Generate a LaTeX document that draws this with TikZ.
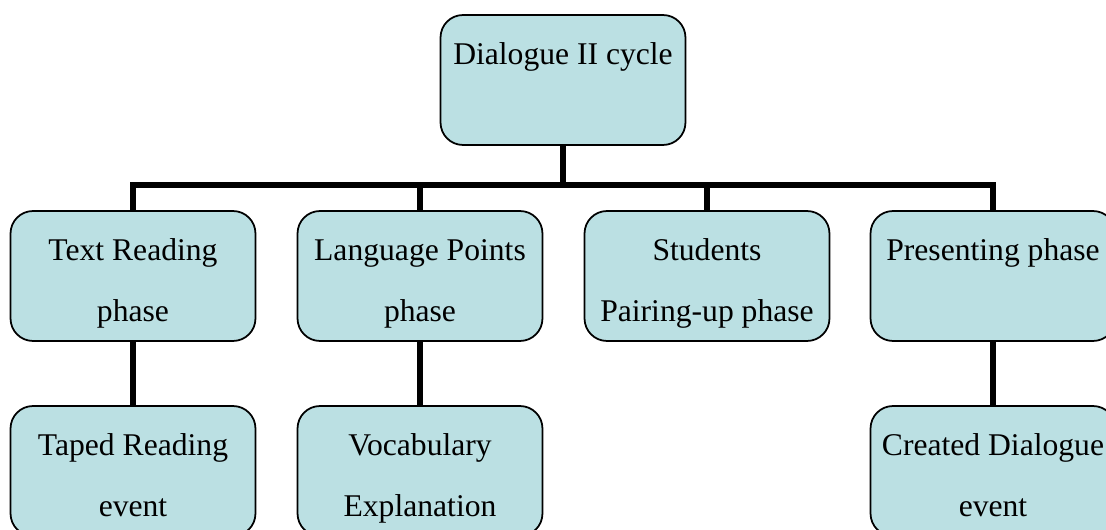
\documentclass[tikz,border=0pt]{standalone}
\usepackage{fontspec}
\setmainfont{Liberation Serif}
\usepackage{tikz}
\usetikzlibrary{calc}
\definecolor{cellfill}{HTML}{BBE0E3}
\newcommand{\celltext}[1]{\parbox[c][2.6cm][t]{4.9cm}{\centering\fontsize{18pt}{34.7pt}\selectfont\vspace*{4.15pt}\strut #1}}

\begin{document}
\begin{tikzpicture}[x=0.02cm,y=-0.02cm]
\tikzset{cell/.style={draw,line width=1pt,fill=cellfill,rounded corners=0.45cm,inner sep=0pt},
         link/.style={line width=3pt}}
\useasboundingbox (0,0) rectangle (1106,530);
\clip (0,0) rectangle (1106,530);

\node[cell] (cycle) at (563,80) {\celltext{Dialogue II cycle}};

\node[cell] (textread) at (133,276) {\celltext{Text Reading\\phase}};
\node[cell] (langpts)  at (420,276) {\celltext{Language Points\\phase}};
\node[cell] (pairing)  at (707,276) {\celltext{Students\\Pairing-up phase}};
\node[cell] (present)  at (993,276) {\celltext{Presenting phase}};

\node[cell] (taped)   at (133,471) {\celltext{Taped Reading\\event}};
\node[cell] (vocab)   at (420,471) {\celltext{Vocabulary\\Explanation}};
\node[cell] (created) at (993,471) {\celltext{Created Dialogue\\event}};

\coordinate (bar) at (563,185);
\foreach \n in {textread,langpts,pairing,present}
    \draw[link] (cycle.south) -- (bar) -| (\n.north);

\draw[link] (textread.south) -- (taped.north);
\draw[link] (langpts.south) -- (vocab.north);
\draw[link] (present.south) -- (created.north);
\end{tikzpicture}
\end{document}
